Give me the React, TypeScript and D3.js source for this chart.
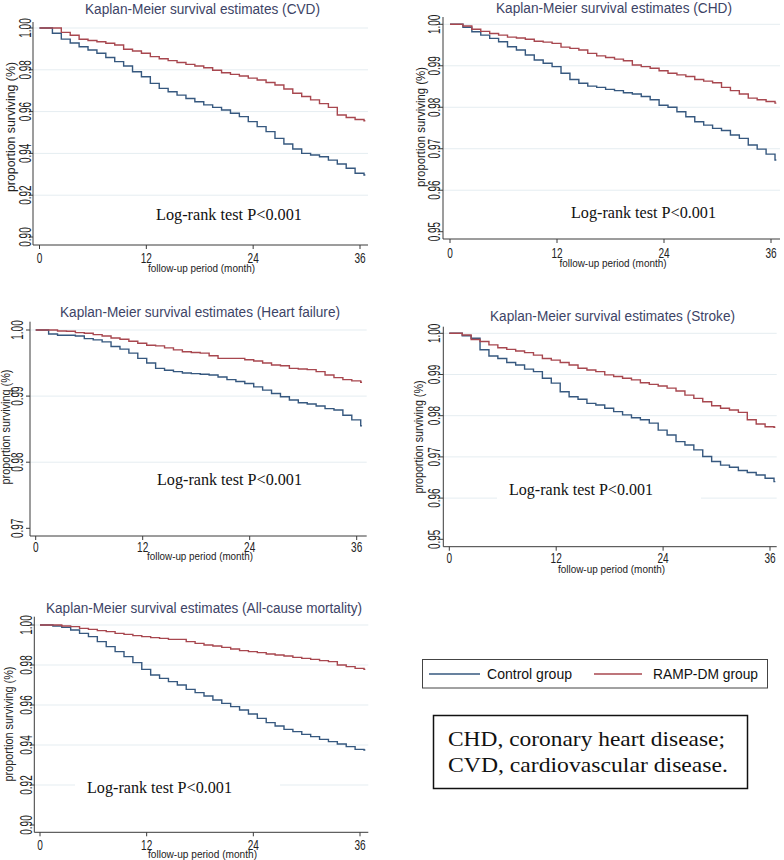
import React from 'react';
import * as d3 from 'd3';

// ---------------- DATA ----------------
const months = [0,1,2,3,4,5,6,7,8,9,10,11,12,13,14,15,16,17,18,19,20,21,22,23,24,25,26,27,28,29,30,31,32,33,34,35,36];
const xTicks = [0, 12, 24, 36];

const cvdControl = [1.0,0.9975,0.9947,0.9928,0.991,0.9895,0.9879,0.9859,0.9839,0.9818,0.9791,0.9767,0.9735,0.9711,0.9695,0.9679,0.9663,0.9647,0.9632,0.962,0.9608,0.9592,0.9576,0.9552,0.9528,0.9504,0.9472,0.9445,0.9421,0.940,0.9392,0.9384,0.9368,0.9349,0.9329,0.9305,0.9297];
const cvdRamp = [1.0,1.0,0.9979,0.9965,0.9946,0.994,0.9934,0.9927,0.9919,0.9898,0.989,0.9879,0.9863,0.9853,0.9844,0.9835,0.9826,0.9818,0.981,0.9798,0.9786,0.9778,0.977,0.976,0.9751,0.9739,0.9727,0.9708,0.9688,0.9672,0.9656,0.9638,0.962,0.9584,0.9572,0.9562,0.9556];

const chdControl = [1.0,0.9993,0.9982,0.9974,0.9966,0.9958,0.9946,0.9938,0.9926,0.9914,0.9906,0.9898,0.9882,0.9867,0.9858,0.9851,0.9848,0.9843,0.984,0.9835,0.9832,0.9826,0.9818,0.9805,0.98,0.9789,0.9777,0.9765,0.9757,0.9749,0.9744,0.9733,0.9725,0.9709,0.9699,0.9687,0.9673];
const chdRamp = [1.0,0.9996,0.9988,0.9983,0.9978,0.9974,0.9969,0.9967,0.9964,0.9959,0.9957,0.9954,0.9945,0.9942,0.9938,0.993,0.9924,0.992,0.9916,0.9912,0.9902,0.9898,0.9894,0.9888,0.9882,0.9878,0.9874,0.9867,0.9863,0.9859,0.9848,0.984,0.9832,0.9822,0.9818,0.9814,0.981];

const hfControl = [1.0,0.9994,0.9992,0.9992,0.9991,0.9987,0.9985,0.9982,0.9975,0.9971,0.9965,0.9957,0.995,0.9942,0.9939,0.9937,0.9935,0.9934,0.9933,0.9932,0.9929,0.9925,0.9922,0.9919,0.9914,0.9909,0.9904,0.9899,0.9894,0.989,0.9888,0.9885,0.9881,0.9879,0.9871,0.9864,0.9855];
const hfRamp = [1.0,1.0,0.99985,0.9998,0.9996,0.9995,0.9993,0.9991,0.9988,0.9986,0.9983,0.998,0.9977,0.9976,0.9973,0.997,0.9967,0.9966,0.9965,0.9961,0.9957,0.9957,0.9957,0.9955,0.9953,0.995,0.9947,0.9946,0.9942,0.9941,0.994,0.9937,0.9932,0.9928,0.9925,0.9923,0.9921];

const strokeControl = [1.0,0.9994,0.9988,0.996,0.9945,0.9939,0.9929,0.9923,0.9913,0.9907,0.9891,0.9879,0.9858,0.9846,0.984,0.983,0.9826,0.9818,0.981,0.9802,0.9795,0.979,0.9782,0.9765,0.9753,0.9737,0.9729,0.9717,0.9701,0.9689,0.968,0.9675,0.9667,0.9662,0.9656,0.9648,0.964];
const strokeRamp = [1.0,0.9996,0.9985,0.998,0.9972,0.9965,0.9961,0.9957,0.9953,0.9947,0.9939,0.9935,0.9929,0.9923,0.9915,0.9911,0.9907,0.9899,0.9895,0.9891,0.9887,0.988,0.9876,0.9872,0.9867,0.986,0.985,0.9842,0.9834,0.9824,0.9818,0.9814,0.9808,0.979,0.978,0.9773,0.9772];

const allControl = [1.0,0.9995,0.9988,0.9975,0.9958,0.9942,0.9917,0.9892,0.9867,0.9842,0.9812,0.9778,0.975,0.9733,0.9717,0.97,0.9678,0.9662,0.9645,0.9625,0.9608,0.9592,0.9575,0.9555,0.9533,0.9512,0.9495,0.9478,0.9467,0.9453,0.9442,0.9428,0.9417,0.9405,0.9392,0.9378,0.9375];
const allRamp = [1.0,1.0,0.9995,0.9992,0.9983,0.9978,0.9972,0.9967,0.9958,0.9953,0.9947,0.9942,0.9937,0.9933,0.9928,0.9928,0.9917,0.9908,0.99,0.9895,0.9888,0.988,0.9872,0.9867,0.9862,0.9855,0.985,0.9845,0.9838,0.9833,0.9828,0.9822,0.9817,0.98,0.9792,0.9783,0.9778];

const yTicksWide = [0.90, 0.92, 0.94, 0.96, 0.98, 1.00];
const yTicksCHD = [0.95, 0.96, 0.97, 0.98, 0.99, 1.00];
const yTicksHF = [0.97, 0.98, 0.99, 1.00];

const titles = [
  'Kaplan-Meier survival estimates (CVD)',
  'Kaplan-Meier survival estimates (CHD)',
  'Kaplan-Meier survival estimates (Heart failure)',
  'Kaplan-Meier survival estimates (Stroke)',
  'Kaplan-Meier survival estimates (All-cause mortality)',
];
const groupNames = ['Control group', 'RAMP-DM group'];
const testLabel = 'Log-rank test P<0.001';
const xLabel = 'follow-up period (month)';
const yLabel = 'proportion surviving (%)';
const noteLines = ['CHD, coronary heart disease;', 'CVD, cardiovascular  disease.'];

// ---------------- STYLE ----------------
const BLUE = '#36587f';
const RED = '#a8474f';
const AXIS = '#3a3a3a';
const GRID = '#e5edf1';
const TITLE = '#3d4466';
const SANS = '"Liberation Sans", Arial, sans-serif';
const SERIF = '"Liberation Serif", "Times New Roman", serif';
const STEP_SHIFT = 0.45;
const END_MONTH = 36.6;

type Layout = {
  axisX: number; x0: number; x36: number; right: number;
  yTop: number; yBot: number; axisTop: number; axisBottom: number;
  titleX: number; titleBase: number; titleW: number;
  xLabX: number; xLabBase: number; xLabW: number; tickBase: number;
  yLabX: number; yLabY: number; yLabLen: number; tickLabX: number;
  logX: number; logBase: number; logW: number;
};

const panels: { title: string; control: number[]; ramp: number[]; ticks: number[]; L: Layout }[] = [
  { title: titles[0], control: cvdControl, ramp: cvdRamp, ticks: yTicksWide,
    L: { axisX: 33, x0: 39.5, x36: 360, right: 368, yTop: 28, yBot: 237, axisTop: 22, axisBottom: 245,
      titleX: 202.5, titleBase: 14, titleW: 235, xLabX: 201.5, xLabBase: 271.5, xLabW: 107, tickBase: 262.5,
      yLabX: 14.5, yLabY: 127, yLabLen: 130, tickLabX: 30.5, logX: 156, logBase: 220, logW: 146 } },
  { title: titles[1], control: chdControl, ramp: chdRamp, ticks: yTicksCHD,
    L: { axisX: 443, x0: 450, x36: 771, right: 780, yTop: 24.3, yBot: 231.7, axisTop: 17, axisBottom: 239,
      titleX: 614, titleBase: 13, titleW: 236, xLabX: 613, xLabBase: 266.5, xLabW: 107, tickBase: 257.5,
      yLabX: 424.5, yLabY: 127, yLabLen: 120, tickLabX: 440, logX: 571, logBase: 218, logW: 145 } },
  { title: titles[2], control: hfControl, ramp: hfRamp, ticks: yTicksHF,
    L: { axisX: 30, x0: 35.7, x36: 356.7, right: 366.7, yTop: 330, yBot: 528.3, axisTop: 321.7, axisBottom: 536,
      titleX: 200, titleBase: 316.7, titleW: 280, xLabX: 200, xLabBase: 559.5, xLabW: 106, tickBase: 551.5,
      yLabX: 10, yLabY: 427, yLabLen: 115, tickLabX: 23, logX: 157, logBase: 485, logW: 145 } },
  { title: titles[3], control: strokeControl, ramp: strokeRamp, ticks: yTicksCHD,
    L: { axisX: 443.3, x0: 449.3, x36: 770, right: 776.7, yTop: 333.3, yBot: 539.3, axisTop: 326.7, axisBottom: 546.7,
      titleX: 612.5, titleBase: 320.7, titleW: 245, xLabX: 611.5, xLabBase: 573, xLabW: 107, tickBase: 562.5,
      yLabX: 422.5, yLabY: 437, yLabLen: 113, tickLabX: 440, logX: 509, logBase: 495, logW: 144 } },
  { title: titles[4], control: allControl, ramp: allRamp, ticks: yTicksWide,
    L: { axisX: 34.3, x0: 40, x36: 360, right: 368.3, yTop: 625, yBot: 825, axisTop: 616.7, axisBottom: 832.3,
      titleX: 204, titleBase: 612.7, titleW: 316, xLabX: 202.5, xLabBase: 857.5, xLabW: 109, tickBase: 849.5,
      yLabX: 13, yLabY: 724, yLabLen: 115, tickLabX: 31.5, logX: 87, logBase: 793, logW: 145 } },
];

const fmt = d3.format('.2f');

function stepPath(values: number[], x: d3.ScaleLinear<number, number>, y: d3.ScaleLinear<number, number>) {
  const pts: [number, number][] = months.map((m, i) => [i === 0 ? 0 : m + STEP_SHIFT, values[i]]);
  pts.push([END_MONTH, values[values.length - 1]]);
  const line = d3.line<[number, number]>()
    .x(d => x(d[0]))
    .y(d => y(d[1]))
    .curve(d3.curveStepAfter);
  return line(pts) || '';
}

function Panel({ title, control, ramp, ticks, L }: { title: string; control: number[]; ramp: number[]; ticks: number[]; L: Layout }) {
  const x = d3.scaleLinear().domain([0, 36]).range([L.x0, L.x36]);
  const y = d3.scaleLinear().domain([ticks[0], ticks[ticks.length - 1]]).range([L.yBot, L.yTop]);
  return (
    <g>
      {ticks.slice(1).map(t => (
        <line key={'g' + t} x1={L.axisX} x2={L.right} y1={y(t)} y2={y(t)} stroke={GRID} strokeWidth={1} />
      ))}
      <rect x={L.logX - 12} y={L.logBase - 16} width={L.logW + 60} height={22} fill="#fff" />
      <text x={L.logX} y={L.logBase} fontFamily={SERIF} fontSize={16.5} fill="#111"
        textLength={L.logW} lengthAdjust="spacingAndGlyphs">{testLabel}</text>
      <path d={stepPath(control, x, y)} fill="none" stroke={BLUE} strokeWidth={1.4} />
      <path d={stepPath(ramp, x, y)} fill="none" stroke={RED} strokeWidth={1.4} />
      <line x1={L.axisX} x2={L.axisX} y1={L.axisTop} y2={L.axisBottom} stroke={AXIS} strokeWidth={1} />
      <line x1={L.axisX} x2={L.right} y1={L.axisBottom} y2={L.axisBottom} stroke={AXIS} strokeWidth={1} />
      {ticks.map(t => (
        <g key={'y' + t}>
          <line x1={L.axisX - 4} x2={L.axisX} y1={y(t)} y2={y(t)} stroke={AXIS} strokeWidth={1} />
          <text transform={`translate(${L.tickLabX},${y(t)}) rotate(-90) scale(0.62,1)`} textAnchor="middle"
            fontFamily={SANS} fontSize={16} fill="#222">{fmt(t)}</text>
        </g>
      ))}
      {xTicks.map(t => (
        <g key={'x' + t}>
          <line x1={x(t)} x2={x(t)} y1={L.axisBottom} y2={L.axisBottom + 4} stroke={AXIS} strokeWidth={1} />
          <text transform={`translate(${x(t)},${L.tickBase}) scale(0.72,1)`} textAnchor="middle"
            fontFamily={SANS} fontSize={14} fill="#222">{t}</text>
        </g>
      ))}
      <text x={L.xLabX - L.xLabW / 2} y={L.xLabBase} fontFamily={SANS} fontSize={10.5} fill="#222"
        textLength={L.xLabW} lengthAdjust="spacingAndGlyphs">{xLabel}</text>
      <text transform={`translate(${L.yLabX},${L.yLabY + L.yLabLen / 2}) rotate(-90)`} fontFamily={SANS} fontSize={12} fill="#222"
        textLength={L.yLabLen} lengthAdjust="spacingAndGlyphs">{yLabel}</text>
      <text x={L.titleX - L.titleW / 2} y={L.titleBase} fontFamily={SANS} fontSize={15.5} fill={TITLE}
        textLength={L.titleW} lengthAdjust="spacingAndGlyphs">{title}</text>
    </g>
  );
}

export default function App() {
  return (
    <svg width={784} height={860} style={{ position: 'absolute', left: 0, top: 0, background: '#fff' }}>
      <rect x={0} y={0} width={784} height={860} fill="#fff" />
      {panels.map((p, i) => <Panel key={i} {...p} />)}
      <rect x={422.5} y={659.5} width={345} height={28.5} fill="#fff" stroke="#444" strokeWidth={1} />
      <line x1={429} x2={480} y1={674} y2={674} stroke={BLUE} strokeWidth={1.5} />
      <text x={487} y={679.3} fontFamily={SANS} fontSize={15} fill="#111" textLength={85} lengthAdjust="spacingAndGlyphs">{groupNames[0]}</text>
      <line x1={594} x2={642} y1={674} y2={674} stroke={RED} strokeWidth={1.5} />
      <text x={653} y={679.3} fontFamily={SANS} fontSize={15} fill="#111" textLength={105} lengthAdjust="spacingAndGlyphs">{groupNames[1]}</text>
      <rect x={433.5} y={715.5} width={314} height={73} fill="#fff" stroke="#111" strokeWidth={1.5} />
      <text x={448} y={746} fontFamily={SERIF} fontSize={22} fill="#111" textLength={277} lengthAdjust="spacingAndGlyphs">{noteLines[0]}</text>
      <text x={448} y={772} fontFamily={SERIF} fontSize={22} fill="#111" textLength={280} lengthAdjust="spacingAndGlyphs">{noteLines[1]}</text>
    </svg>
  );
}
